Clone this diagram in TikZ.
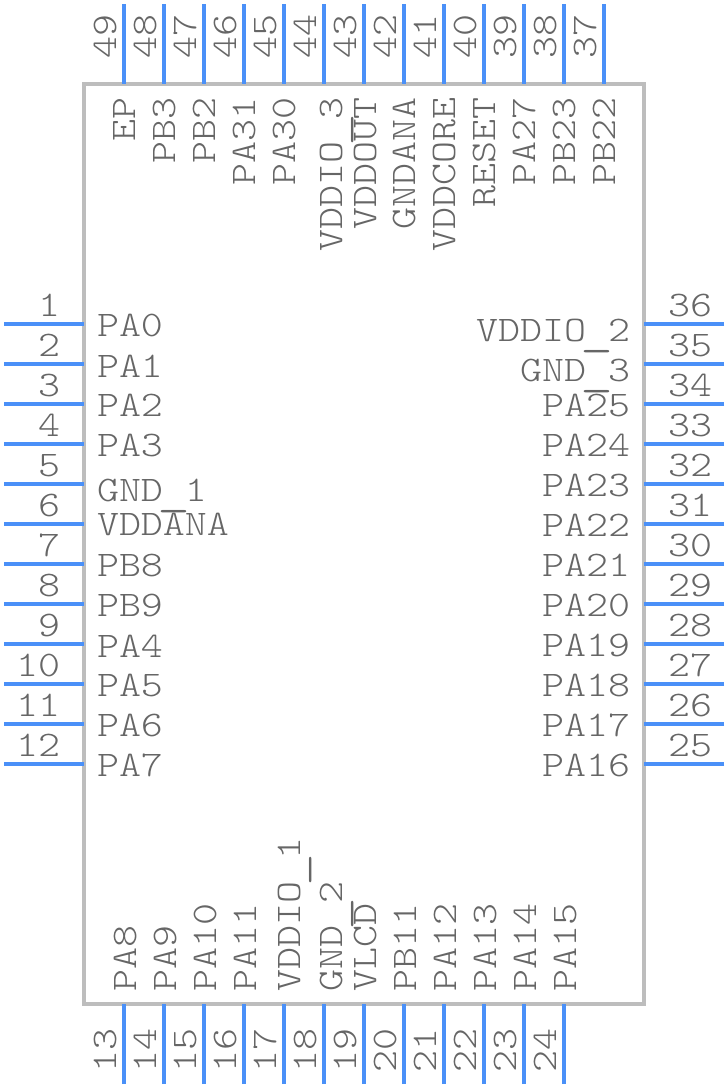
\documentclass[tikz,border=0pt]{standalone}
\usepackage{fontspec}
\setmonofont{Latin Modern Mono Light}[FakeStretch=1.164]
\definecolor{pinc}{HTML}{4A90F8}
\definecolor{boxc}{HTML}{BDBDBD}
\definecolor{txtc}{HTML}{666666}
\newcommand\usc{\makebox[22pt]{\raisebox{-3.5pt}{\scalebox{1.5}[1.3]{\_}}}}
\tikzset{
 pin/.style={draw=pinc,line width=4pt},
 lab/.style={inner sep=0pt,outer sep=0pt,text=txtc,font=\ttfamily\fontsize{36}{38}\selectfont},
}
\begin{document}
\begin{tikzpicture}[x=1pt,y=-1pt]
\useasboundingbox[fill=white] (0,0) rectangle (728,1088);
\node[draw=boxc,line width=4pt,minimum width=560pt,minimum height=920pt,inner sep=0pt,outer sep=0pt] (body) at (364,544) {};
% left pins
\foreach \n/\lb/\by [count=\i from 0] in {1/PA0/336,2/PA1/377,3/PA2/416,4/PA3/456,5/GND\usc 1/501,6/VDDANA/535,7/PB8/576,8/PB9/616,9/PA4/657,10/PA5/696,11/PA6/736,12/PA7/776}{
 \pgfmathsetmacro\yy{324+40*\i}
 \coordinate (p\n) at (4,\yy);
 \coordinate (q\n) at (84,\yy);
 \draw[pin] (p\n) -- (q\n);
 \node[lab,anchor=base east] (n\n) at (60,\yy-8) {\n};
 \node[lab,anchor=base west] (l\n) at (97,\by) {\lb};
}
% right pins
\foreach \n/\lb/\by [count=\i from 0] in {36/VDDIO\usc 2/341,35/GND\usc 3/381,34/PA25/416,33/PA24/456,32/PA23/496,31/PA22/536,30/PA21/576,29/PA20/616,28/PA19/656,27/PA18/696,26/PA17/736,25/PA16/776}{
 \pgfmathsetmacro\yy{324+40*\i}
 \coordinate (p\n) at (724,\yy);
 \coordinate (q\n) at (644,\yy);
 \draw[pin] (p\n) -- (q\n);
 \node[lab,anchor=base west] (n\n) at (668,\yy-8) {\n};
 \node[lab,anchor=base east] (l\n) at (630,\by) {\lb};
}
% top pins
\foreach \n/\lb/\bx [count=\i from 0] in {49/EP/135,48/PB3/175,47/PB2/215,46/PA31/255,45/PA30/295,44/VDDIO\usc 3/342,43/VDDOUT/376,42/GNDANA/415,41/VDDCORE/455,40/RESET/495,39/PA27/535,38/PB23/575,37/PB22/615}{
 \pgfmathsetmacro\xx{124+40*\i}
 \coordinate (p\n) at (\xx,4);
 \coordinate (q\n) at (\xx,84);
 \draw[pin] (p\n) -- (q\n);
 \node[lab,anchor=base west,rotate=90] (n\n) at (\xx-8,58) {\n};
 \node[lab,anchor=base east,rotate=90] (l\n) at (\bx,97) {\lb};
}
% bottom pins
\foreach \n/\lb/\bx [count=\i from 0] in {13/PA8/136,14/PA9/176,15/PA10/216,16/PA11/256,17/VDDIO\usc 1/300,18/GND\usc 2/342,19/VLCD/376,20/PB11/416,21/PA12/456,22/PA13/496,23/PA14/536,24/PA15/576}{
 \pgfmathsetmacro\xx{124+40*\i}
 \coordinate (p\n) at (\xx,1084);
 \coordinate (q\n) at (\xx,1004);
 \draw[pin] (p\n) -- (q\n);
 \node[lab,anchor=base west,rotate=90] (n\n) at (\xx-8,1072) {\n};
 \node[lab,anchor=base west,rotate=90] (l\n) at (\bx,991) {\lb};
}
\end{tikzpicture}
\end{document}
